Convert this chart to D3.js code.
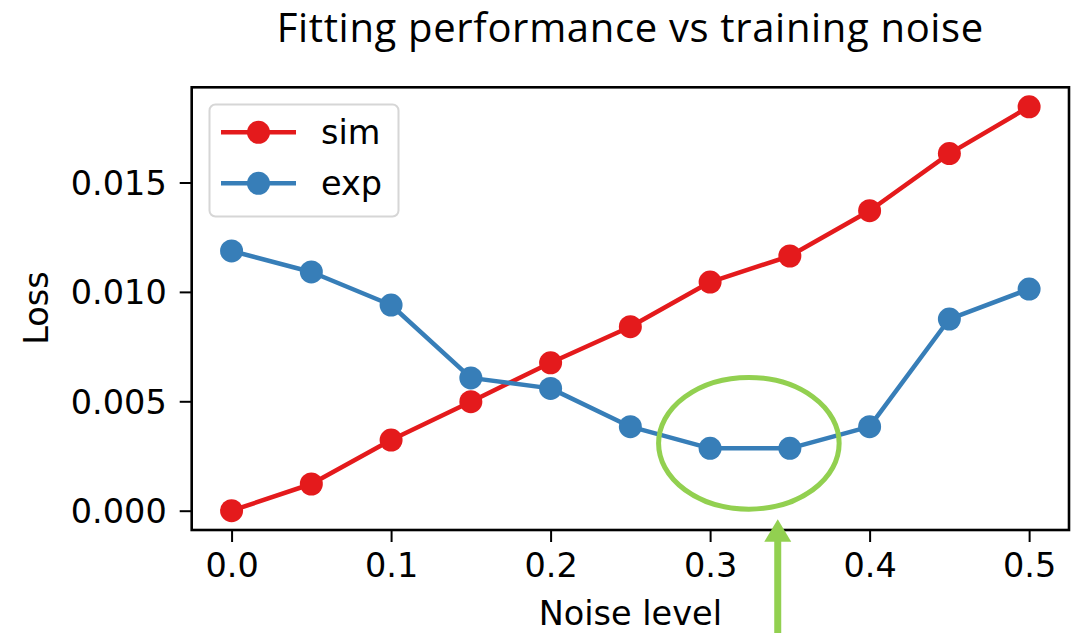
<!DOCTYPE html>
<html>
<head>
<meta charset="utf-8">
<script src="https://cdn.jsdelivr.net/npm/d3@7"></script>
<style>
  html, body { margin: 0; padding: 0; background: #fff; }
  svg { display: block; }
</style>
</head>
<body>
<svg id="chart" width="1071" height="633"></svg>
<script>
// Noise levels used in training
const noiseLevels = [0.0, 0.05, 0.1, 0.15, 0.2, 0.25, 0.3, 0.35, 0.4, 0.45, 0.5];
// Loss on simulated data
const simLoss = [0.0, 0.00122, 0.00323, 0.00498, 0.00676, 0.00841, 0.01045, 0.01164, 0.01371, 0.01632, 0.01846];
// Loss on experimental data
const expLoss = [0.01187, 0.01091, 0.00940, 0.00607, 0.00559, 0.00384, 0.00285, 0.00285, 0.00384, 0.00876, 0.01013];
// Tick values
const xTicks = [0.0, 0.1, 0.2, 0.3, 0.4, 0.5];
const yTicks = [0.000, 0.005, 0.010, 0.015];
// Series names
const seriesNames = ["sim", "exp"];

const colors = { sim: "#e41a1c", exp: "#377eb8" };
const highlight = "#92d050";

const svg = d3.select("#chart");
const frame = { left: 191.7, right: 1069, top: 87.3, bottom: 530 };

const x = d3.scaleLinear().domain([-0.025, 0.525]).range([frame.left, frame.right]);
const y = d3.scaleLinear().domain([-0.000882, 0.01935]).range([frame.bottom, frame.top]);

const tickFont = "'DejaVu Sans', sans-serif";
const fs = 33.5;

// axes
const xAxis = d3.axisBottom(x).tickValues(xTicks).tickFormat(d3.format(".1f"))
  .tickSizeInner(12).tickSizeOuter(0).tickPadding(8);
const yAxis = d3.axisLeft(y).tickValues(yTicks).tickFormat(d3.format(".3f"))
  .tickSizeInner(12).tickSizeOuter(0).tickPadding(13);

const gx = svg.append("g").attr("transform", `translate(0,${frame.bottom})`).call(xAxis);
const gy = svg.append("g").attr("transform", `translate(${frame.left},0)`).call(yAxis);
[gx, gy].forEach(g => {
  g.attr("font-family", null).attr("font-size", null);
  g.select(".domain").remove();
  g.selectAll(".tick line").attr("stroke", "#000").attr("stroke-width", 2);
  g.selectAll(".tick text").attr("fill", "#000")
    .style("font-family", tickFont).style("font-size", fs + "px");
});
gx.selectAll(".tick text").attr("dy", "0.8em");
gy.selectAll(".tick text").attr("dy", "0.36em");

// series
const series = [
  { name: seriesNames[0], values: simLoss, color: colors.sim },
  { name: seriesNames[1], values: expLoss, color: colors.exp }
];
const line = d3.line().x((d, i) => x(noiseLevels[i])).y(d => y(d));

series.forEach(s => {
  const g = svg.append("g");
  g.append("path").datum(s.values)
    .attr("d", line).attr("fill", "none")
    .attr("stroke", s.color).attr("stroke-width", 4.5)
    .attr("stroke-linejoin", "round");
  g.selectAll("circle").data(s.values).join("circle")
    .attr("cx", (d, i) => x(noiseLevels[i])).attr("cy", d => y(d))
    .attr("r", 11.5).attr("fill", s.color);
});

// frame
svg.append("rect")
  .attr("x", frame.left).attr("y", frame.top)
  .attr("width", frame.right - frame.left).attr("height", frame.bottom - frame.top)
  .attr("fill", "none").attr("stroke", "#000").attr("stroke-width", 2.6);

// legend
const legend = svg.append("g");
legend.append("rect")
  .attr("x", 209.5).attr("y", 104.5).attr("width", 189).attr("height", 112)
  .attr("rx", 6).attr("fill", "#fff").attr("fill-opacity", 0.85)
  .attr("stroke", "#d6d6d6").attr("stroke-width", 2);
series.forEach((s, i) => {
  const cy = 132.3 + i * 51;
  legend.append("line").attr("x1", 221).attr("x2", 296).attr("y1", cy).attr("y2", cy)
    .attr("stroke", s.color).attr("stroke-width", 4.5);
  legend.append("circle").attr("cx", 258.5).attr("cy", cy).attr("r", 11.5).attr("fill", s.color);
  legend.append("text").attr("x", 321).attr("y", cy).attr("dy", "0.36em")
    .style("font-family", tickFont).style("font-size", fs + "px").attr("fill", "#000")
    .text(s.name);
});

// axis labels
svg.append("text")
  .attr("x", (frame.left + frame.right) / 2).attr("y", 625)
  .attr("text-anchor", "middle")
  .style("font-family", tickFont).style("font-size", fs + "px").attr("fill", "#000")
  .text("Noise level");
svg.append("text")
  .attr("transform", `translate(48.3,${308}) rotate(-90)`)
  .attr("text-anchor", "middle")
  .style("font-family", tickFont).style("font-size", fs + "px").attr("fill", "#000")
  .text("Loss");

// title, sized to span its measured width
const titleWidth = 706.6;
const title = svg.append("text")
  .attr("x", 630).attr("y", 41.5).attr("text-anchor", "middle")
  .style("font-family", "'Open Sans', Lato, sans-serif").style("font-size", "40px")
  .attr("fill", "#000")
  .text("Fitting performance vs training noise");
const tw = title.node().getComputedTextLength();
title.style("font-size", Math.min(40, 40 * titleWidth / tw) + "px");
if (title.node().getComputedTextLength() < titleWidth) {
  title.attr("textLength", titleWidth).attr("lengthAdjust", "spacing");
}

// highlight of the flat minimum of exp loss
const ringCx = 0.3243, ringCy = 0.00308, ringRx = 0.0566, ringRy = 0.00301;
svg.append("ellipse")
  .attr("cx", x(ringCx)).attr("cy", y(ringCy))
  .attr("rx", x(ringCx + ringRx) - x(ringCx)).attr("ry", y(ringCy) - y(ringCy + ringRy))
  .attr("fill", "none").attr("stroke", highlight).attr("stroke-width", 5);

// arrow pointing up at the highlighted noise level
const arrowX = 0.3424, arrowTip = -0.00039;
const ax = x(arrowX), tipY = y(arrowTip);
svg.append("line")
  .attr("x1", ax).attr("x2", ax).attr("y1", tipY + 20).attr("y2", 640)
  .attr("stroke", highlight).attr("stroke-width", 7);
svg.append("path")
  .attr("d", `M${ax},${tipY} L${ax + 13.5},${tipY + 22.5} L${ax - 13.5},${tipY + 22.5} Z`)
  .attr("fill", highlight);
</script>
</body>
</html>
